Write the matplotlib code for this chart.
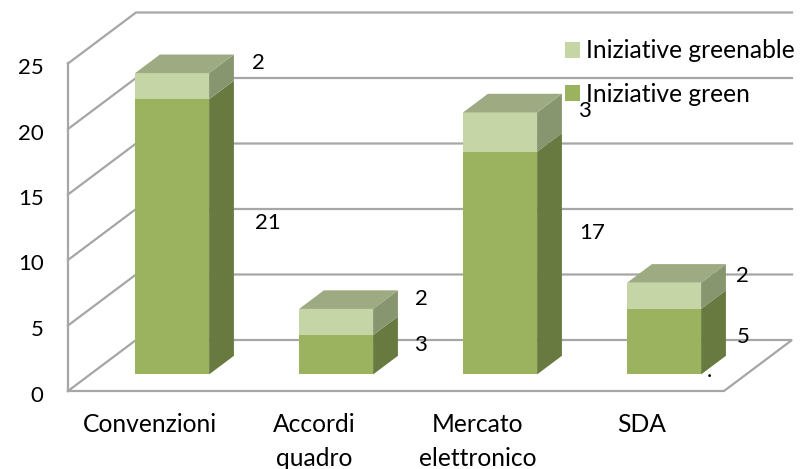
import matplotlib
matplotlib.use('Agg')
import matplotlib.pyplot as plt
from matplotlib.patches import Polygon, Patch
from matplotlib.transforms import ScaledTranslation

categories = ['Convenzioni', 'Accordi\nquadro', 'Mercato\nelettronico', 'SDA']
green = [21, 3, 17, 5]
greenable = [2, 2, 3, 2]
y_ticks = [0, 5, 10, 15, 20, 25]

plt.rcParams['font.family'] = ['Lato', 'DejaVu Sans']
W, H = 801, 469
LINE = '#a6a6a6'
FS = 17.7
NUM_FS = 16

fig = plt.figure(figsize=(W / 100, H / 100), dpi=100)
# plot box in pixels: x 68-724, y 391 (value 0) up to 63.5 (value 25)
ax = fig.add_axes([68 / W, 1 - 391 / H, 656 / W, 327.5 / H])
ax.set_xlim(0, 4)
ax.set_ylim(0, 25)
ax.patch.set_visible(False)
for s in ax.spines.values():
    s.set_visible(False)

# oblique depth of the 3d box, in data units for depth=1
dx_full = 68 / 164
dy_full = 51 / 13.1

def proj(x, y, d):
    return x + d * dx_full, y + d * dy_full

# walls and floor
for v in y_ticks:
    pts = [proj(0, v, 0), proj(0, v, 1), proj(4, v, 1)]
    if v == 0:
        pts = pts + [proj(4, 0, 0), proj(0, 0, 0)]
    ax.plot(*zip(*pts), color=LINE, lw=1.6, clip_on=False, zorder=1, solid_joinstyle='miter')
ax.plot([0, 0], [0, 25], color=LINE, lw=1.6, clip_on=False, zorder=1)

# bars
D0, D1 = 0.325, 0.69
BW = 74 / 164
FRONT = ['#9bb35f', '#c5d5a5']
SIDE = ['#697a40', '#87966f']
TOP = '#9daa82'

def box(cx, y0, y1, k, top):
    x0, x1 = cx - BW / 2, cx + BW / 2
    front = [proj(x0, y0, D0), proj(x1, y0, D0), proj(x1, y1, D0), proj(x0, y1, D0)]
    side = [proj(x1, y0, D0), proj(x1, y0, D1), proj(x1, y1, D1), proj(x1, y1, D0)]
    ax.add_patch(Polygon(side, fc=SIDE[k], ec='none', clip_on=False, zorder=3))
    ax.add_patch(Polygon(front, fc=FRONT[k], ec='none', clip_on=False, zorder=3))
    if top:
        t = [proj(x0, y1, D0), proj(x1, y1, D0), proj(x1, y1, D1), proj(x0, y1, D1)]
        ax.add_patch(Polygon(t, fc=TOP, ec='none', clip_on=False, zorder=3))

for i in range(len(categories)):
    box(i + 0.5, 0, green[i], 0, False)
    box(i + 0.5, green[i], green[i] + greenable[i], 1, True)

leg = fig.legend(handles=[Patch(fc=FRONT[1], ec='none', label='Iniziative greenable'),
                          Patch(fc=FRONT[0], ec='none', label='Iniziative green')],
                 loc='upper left', bbox_to_anchor=(565 / W, 1 - 39.5 / H), borderaxespad=0, borderpad=0,
                 frameon=False, fontsize=FS, handlelength=0.61, handleheight=0.61,
                 handletextpad=0.25, labelspacing=0.83)
leg.set_zorder(4)

# data labels, offsets in pixels from the bar centre / middle of the segment
green_off = [(118, 14), (106, 10), (114, 30), (101, 5)]
greenable_off = [(108, 23), (107, 23), (106, 21), (100, 20)]
for i in range(len(categories)):
    ax.annotate(str(green[i]), (i + 0.5, green[i] / 2 + D0 * dy_full), xytext=green_off[i],
                textcoords='offset pixels', ha='center', va='center', fontsize=NUM_FS, zorder=5, annotation_clip=False)
    ax.annotate(str(greenable[i]), (i + 0.5, green[i] + greenable[i] / 2 + D0 * dy_full), xytext=greenable_off[i],
                textcoords='offset pixels', ha='center', va='center', fontsize=NUM_FS, zorder=5, annotation_clip=False)
# stray fragment of a hidden label just behind the last bar
ax.annotate('.', (3.5, 0), xytext=(67, 14), textcoords='offset pixels', ha='center', va='baseline',
            fontsize=NUM_FS, annotation_clip=False, zorder=2)

ax.set_yticks(y_ticks)
ax.set_xticks([0.5, 1.5, 2.5, 3.5])
ax.set_xticklabels(categories, linespacing=1.55)
ax.tick_params(axis='y', length=0, pad=17.5, labelsize=NUM_FS)
ax.tick_params(axis='x', length=0, pad=16, labelsize=FS)

# y labels sit a little below their grid value
shift = ScaledTranslation(0, -2.5 / 100, fig.dpi_scale_trans)
for lab in ax.get_yticklabels():
    lab.set_transform(lab.get_transform() + shift)

fig.savefig('out.png', dpi=100)
